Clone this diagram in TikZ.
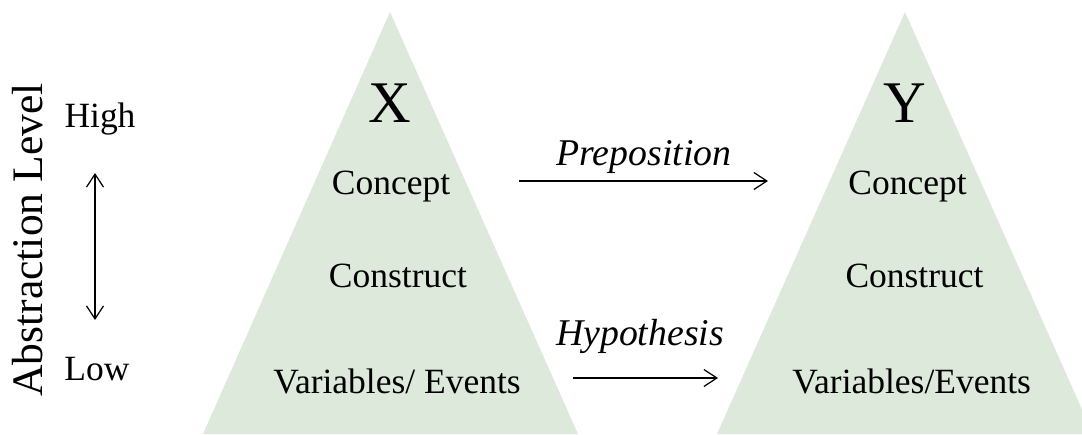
\documentclass[tikz,border=0pt]{standalone}
\usepackage{fontspec}
\setmainfont{Liberation Serif}
\usepackage{tikz}
\usetikzlibrary{arrows.meta}
\definecolor{pyrgreen}{RGB}{221,233,219}
\tikzset{>={Straight Barb[length=2.6mm,width=3.4mm]}}
\tikzstyle{lbl} = [draw=none, inner sep = 0, anchor=base, font=\fontsize{20.2}{24}\selectfont]
\tikzstyle{big} = [lbl, font=\fontsize{33.6}{38}\selectfont]
\tikzstyle{itl} = [lbl, font=\fontsize{21.5}{25}\selectfont\itshape]
\tikzstyle{pyr} = [fill=pyrgreen, draw=none]
\tikzstyle{rel} = [->, line width=0.7pt]

\begin{document}
\begin{tikzpicture}[x=0.02cm, y=-0.02cm]
\useasboundingbox (0,0) rectangle (1082,434);
\clip (0,0) rectangle (1082,434);
% pyramids
\fill [pyr] (390,12) -- (578,434) -- (203,434) -- cycle;
\fill [pyr] (905,12) -- (1093,434) -- (717,434) -- cycle;
% abstraction axis
\node [lbl, rotate=90, font=\fontsize{24.8}{28}\selectfont] (abs) at (42,240) {Abstraction Level};
\node [lbl] (hi) at (100,127) {High};
\node [lbl] (lo) at (97,380) {Low};
\coordinate (up) at (95,173);
\coordinate (dn) at (95,320);
\draw [<->, line width=0.7pt] (up) to (dn);
% X
\node [big] (X) at (390,122) {X};
\node [lbl] (Xc) at (391,194) {Concept};
\node [lbl] (Xk) at (398,287) {Construct};
\node [lbl] (Xv) at (397,393) {Variables/ Events};
% Y
\node [big] (Y) at (905,122) {Y};
\node [lbl] (Yc) at (907.5,194) {Concept};
\node [lbl] (Yk) at (914.5,287) {Construct};
\node [lbl] (Yv) at (911.7,393) {Variables/Events};
% relations
\coordinate (p0) at (519,181);
\coordinate (p1) at (768,181);
\coordinate (h0) at (573,378);
\coordinate (h1) at (718,378);
\draw [rel] (p0) to (p1);
\draw [rel] (h0) to (h1);
\node [itl] (prep) at (644,165) {Preposition};
\node [itl] (hyp) at (640,345) {Hypothesis};
\end{tikzpicture}
\end{document}
